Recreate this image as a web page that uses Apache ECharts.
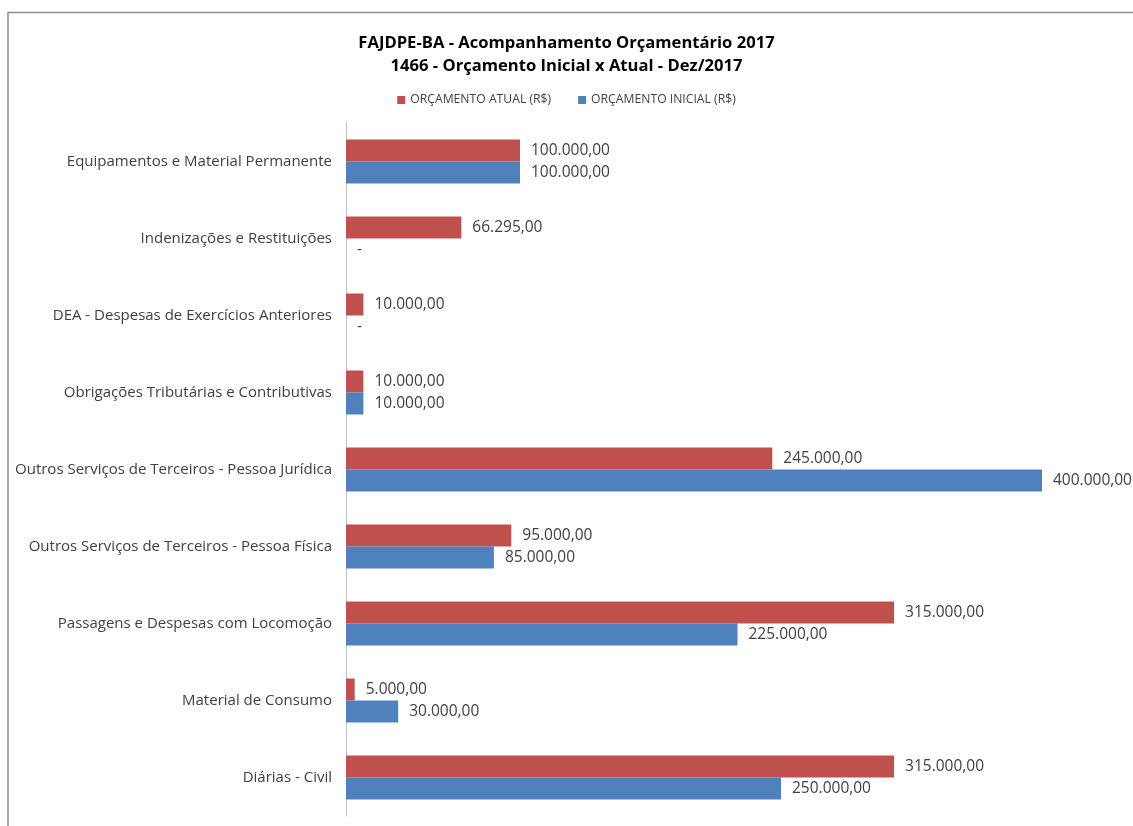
<!DOCTYPE html>
<html>
<head>
<meta charset="utf-8">
<script src="https://cdn.jsdelivr.net/npm/echarts@6/dist/echarts.min.js"></script>
<style>html,body{margin:0;padding:0;background:#fff;}#c{width:1133px;height:826px;}</style>
</head>
<body>
<div id="c"></div>
<script>
const categories = [
  'Diárias - Civil',
  'Material de Consumo',
  'Passagens e Despesas com Locomoção',
  'Outros Serviços de Terceiros - Pessoa Física',
  'Outros Serviços de Terceiros - Pessoa Jurídica',
  'Obrigações Tributárias e Contributivas',
  'DEA - Despesas de Exercícios Anteriores',
  'Indenizações e Restituições',
  'Equipamentos e Material Permanente'
];
const orcamentoAtual = [315000, 5000, 315000, 95000, 245000, 10000, 10000, 66295, 100000];
const orcamentoInicial = [250000, 30000, 225000, 85000, 400000, 10000, 0, 0, 100000];
const seriesNames = ['ORÇAMENTO ATUAL (R$)', 'ORÇAMENTO INICIAL (R$)'];

function fmt(v) {
  if (!v) return '-';
  const parts = v.toFixed(2).split('.');
  const intPart = parts[0].replace(/\B(?=(\d{3})+(?!\d))/g, '.');
  return intPart + ',' + parts[1];
}

const font = '"Open Sans", sans-serif';
const chart = echarts.init(document.getElementById('c'), null, {renderer: 'canvas'});
chart.setOption({
  animation: false,
  textStyle: {fontFamily: font},
  title: {
    text: 'FAJDPE-BA - Acompanhamento Orçamentário 2017\n1466 - Orçamento Inicial x Atual - Dez/2017',
    left: 'center',
    top: 27,
    textStyle: {fontSize: 16.6, fontWeight: 'bold', color: '#000', lineHeight: 23, fontFamily: font}
  },
  legend: {
    data: seriesNames,
    top: 89,
    left: 'center',
    itemWidth: 8,
    itemHeight: 8,
    itemGap: 27,
    icon: 'rect',
    textStyle: {fontSize: 12.2, color: '#404040', fontFamily: font}
  },
  graphic: [{
    type: 'polyline',
    shape: {points: [[8, 830], [8, 12.5], [1140, 12.5]]},
    style: {stroke: '#8c8c8c', lineWidth: 1.5, fill: null},
    silent: true
  }],
  grid: {left: 346, right: 91, top: 123, bottom: 10, containLabel: false},
  xAxis: {
    type: 'value',
    min: 0,
    max: 400000,
    show: false
  },
  yAxis: {
    type: 'category',
    data: categories,
    axisLine: {show: true, lineStyle: {color: '#bfbfbf', width: 1}},
    axisTick: {show: false},
    axisLabel: {fontSize: 15, color: '#404040', margin: 14, fontFamily: font}
  },
  series: [
    {
      name: seriesNames[0],
      type: 'bar',
      data: orcamentoAtual,
      barWidth: 22,
      barGap: '0%',
      itemStyle: {color: '#C0504D'},
      label: {show: true, position: 'right', distance: 11, fontSize: 15.5, color: '#404040', fontFamily: font,
              formatter: p => fmt(p.value)}
    },
    {
      name: seriesNames[1],
      type: 'bar',
      data: orcamentoInicial,
      barWidth: 22,
      barGap: '0%',
      itemStyle: {color: '#4F81BD'},
      label: {show: true, position: 'right', distance: 11, fontSize: 15.5, color: '#404040', fontFamily: font,
              formatter: p => fmt(p.value)}
    }
  ]
});
</script>
</body>
</html>
